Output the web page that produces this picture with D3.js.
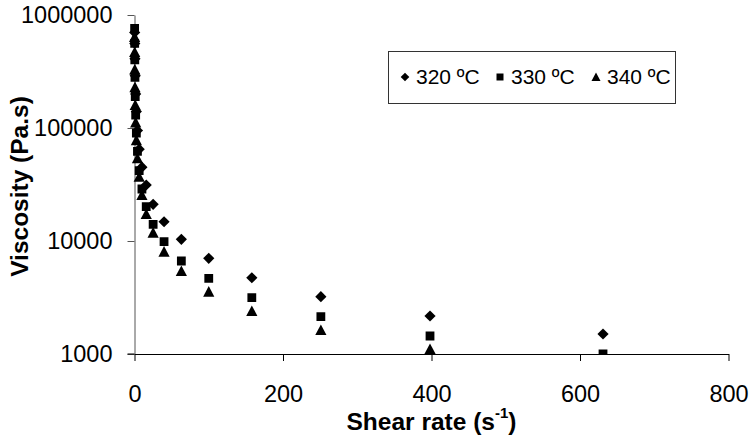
<!DOCTYPE html>
<html>
<head>
<meta charset="utf-8">
<script src="https://cdn.jsdelivr.net/npm/d3@7"></script>
<style>
  html, body { margin: 0; padding: 0; background: #fff; }
  svg { display: block; font-family: "Liberation Sans", Arial, sans-serif; }
</style>
</head>
<body>
<svg id="chart" width="751" height="436"></svg>
<script>
// ---- data ----
const shearRate = [0.158, 0.251, 0.398, 0.631, 1.0, 1.58, 2.51, 3.98, 6.31, 10, 15.8, 25.1, 39.8, 63.1, 100, 158, 251, 398, 631];
const visc320 = [null, 700000, 560000, 410000, 290000, 200000, 140000, 95000, 65000, 45000, 31300, 21100, 14800, 10350, 7030, 4730, 3215, 2170, 1503];
const visc330 = [760000, 560000, 400000, 280000, 190000, 130000, 90000, 62000, 42000, 28840, 20120, 14060, 9860, 6650, 4677, 3150, 2138, 1443, 1003];
const visc340 = [640000, 470000, 330000, 230000, 160000, 112000, 78000, 54000, 37000, 25500, 17330, 11850, 8040, 5425, 3560, 2402, 1630, 1107, 740];
const seriesNames = ["320 ºC", "330 ºC", "340 ºC"];
const xTicks = [0, 200, 400, 600, 800];
const yTicks = [1000, 10000, 100000, 1000000];

const svg = d3.select("#chart");
const pL = 134.5, pR = 728.5, pT = 15, pB = 354;

const x = d3.scaleLinear().domain([0, 800]).range([pL, pR]);
const y = d3.scaleLog().domain([1000, 1000000]).range([pB, pT]);

const FS = "23.5px";
const TFS = "24.5px";

// clip
svg.append("defs").append("clipPath").attr("id", "clip")
  .append("rect").attr("x", pL - 10).attr("y", pT - 10)
  .attr("width", pR - pL + 20).attr("height", pB - pT + 10.5);

// y axis
const yAxis = svg.append("g").attr("transform", `translate(${pL},0)`)
  .call(d3.axisLeft(y).tickValues(yTicks).tickFormat(d3.format("d")).tickSize(7).tickPadding(15).tickSizeOuter(0));
yAxis.select(".domain").attr("stroke", "#555");
yAxis.selectAll(".tick line").attr("stroke", "#555");
yAxis.selectAll("text").attr("font-size", FS).attr("font-family", "Liberation Sans, Arial, sans-serif").attr("fill", "#000");

// x axis
const xAxis = svg.append("g").attr("transform", `translate(0,${pB})`)
  .call(d3.axisBottom(x).tickValues(xTicks).tickFormat(d3.format("d")).tickSize(7).tickPadding(24).tickSizeOuter(0));
xAxis.select(".domain").attr("stroke", "#000");
xAxis.selectAll(".tick line").attr("stroke", "#000");
xAxis.selectAll("text").attr("font-size", FS).attr("font-family", "Liberation Sans, Arial, sans-serif").attr("fill", "#000");
svg.append("line").attr("x1", pL - 7).attr("x2", pL).attr("y1", y(1000)).attr("y2", y(1000)).attr("stroke", "#000");

// marker paths
function diamond(s) { return `M0,${-s}L${s},0L0,${s}L${-s},0Z`; }
function square(s) { return `M${-s},${-s}H${s}V${s}H${-s}Z`; }
function triangle(s) { return `M0,${-s}L${s},${s*0.9}L${-s},${s*0.9}Z`; }
const shapes = [d => diamond(5.6), d => square(4.4), d => triangle(5.6)];
const legendShapes = [diamond(4.3), square(3.5), triangle(4.5)];

const allSeries = [visc320, visc330, visc340];
const plot = svg.append("g").attr("clip-path", "url(#clip)");
allSeries.forEach((vals, i) => {
  const pts = shearRate.map((r, j) => ({ r, v: vals[j] })).filter(p => p.v != null);
  plot.append("g").selectAll("path").data(pts).join("path")
    .attr("d", shapes[i])
    .attr("transform", p => `translate(${x(p.r)},${y(p.v)})`)
    .attr("fill", "#000");
});

// axis titles
const xt = svg.append("text").attr("x", (pL + pR) / 2).attr("y", 430)
  .attr("text-anchor", "middle").attr("font-size", TFS).attr("font-weight", "bold");
xt.append("tspan").text("Shear rate (s");
xt.append("tspan").attr("font-size", "15px").attr("dy", -12).text("-1");
xt.append("tspan").attr("dy", 12).text(")");

svg.append("text").attr("transform", `translate(28,${(pT + pB) / 2 + 2}) rotate(-90)`)
  .attr("text-anchor", "middle").attr("font-size", TFS).attr("font-weight", "bold")
  .text("Viscosity (Pa.s)");

// legend
const lg = svg.append("g");
lg.append("rect").attr("x", 388.5).attr("y", 51.5).attr("width", 287).attr("height", 52)
  .attr("fill", "#fff").attr("stroke", "#333").attr("stroke-width", 1);
const legX = [405, 500, 596];
seriesNames.forEach((name, i) => {
  lg.append("path").attr("d", legendShapes[i]).attr("transform", `translate(${legX[i]},77)`).attr("fill", "#000");
  lg.append("text").attr("x", legX[i] + 11).attr("y", 84).attr("font-size", "21px").text(name);
});
</script>
</body>
</html>
